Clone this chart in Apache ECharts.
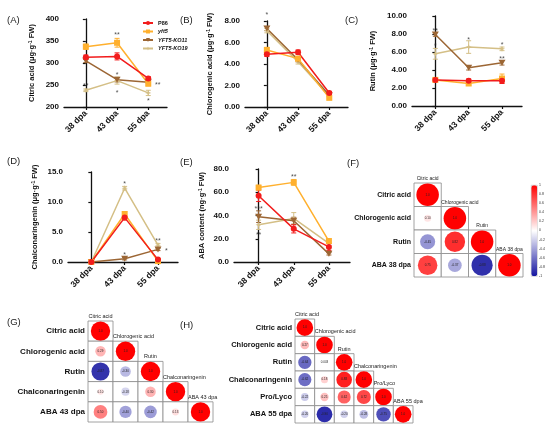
<!DOCTYPE html>
<html>
<head>
<meta charset="utf-8">
<script src="https://cdn.jsdelivr.net/npm/echarts@6/dist/echarts.min.js"></script>
<style>
html, body { margin: 0; padding: 0; background: #fff; }
#main { width: 550px; height: 431px; }
</style>
</head>
<body>
<div id="main"></div>
<script>
var stages = ['38 dpa', '43 dpa', '55 dpa'];
var lines = ['P86', 'yft5', 'YFT5-KO11', 'YFT5-KO19'];

// (A) citric acid, ug/g FW  (order: P86, yft5, KO11, KO19)
var citricP86 = [313, 315, 265];
var citricYft5 = [337, 346, 253];
var citricKO11 = [305, 262, 256];
var citricKO19 = [238, 260, 232];
var citricErr = [[5, 8, 4], [6, 10, 5], [4, 5, 3], [3, 8, 6]];
var citricSig = [[1, 368, '**'], [0, 251, '**'], [1, 277, '*'], [1, 237, '*'], [2.3, 254, '**'], [2, 218, '*']];

// (B) chlorogenic acid
var chloroP86 = [4.9, 5.1, 1.3];
var chloroYft5 = [5.3, 4.5, 0.85];
var chloroKO11 = [7.3, 4.4, 1.1];
var chloroKO19 = [7.1, 4.2, 1.0];
var chloroErr = [[0.2, 0.2, 0.15], [0.25, 0.2, 0.1], [0.2, 0.2, 0.1], [0.2, 0.2, 0.1]];
var chloroSig = [[0, 8.7, '*']];

// (C) rutin
var rutinP86 = [2.9, 2.8, 2.8];
var rutinYft5 = [2.9, 2.5, 3.05];
var rutinKO11 = [7.95, 4.25, 4.8];
var rutinKO19 = [5.8, 6.55, 6.35];
var rutinErr = [[0.2, 0.2, 0.3], [0.15, 0.2, 0.5], [0.2, 0.25, 0.25], [0.6, 0.7, 0.2]];
var rutinSig = [[0, 8.6, '**'], [0, 6.9, '*'], [1, 7.6, '*'], [2, 7.0, '*'], [2, 5.45, '**']];

// (D) chalconaringenin
var chalcoP86 = [0, 7.4, 0.4];
var chalcoYft5 = [0, 8.0, 0.15];
var chalcoKO11 = [0, 0.55, 2.1];
var chalcoKO19 = [0, 12.3, 2.8];
var chalcoErr = [[0, 0.4, 0.1], [0, 0.4, 0.1], [0, 0.2, 0.2], [0, 0.3, 0.3]];
var chalcoSig = [[1, 13.3, '*'], [1, 1.5, '*'], [2, 3.8, '**'], [2.25, 2.2, '*']];

// (E) ABA content, ng/g FW
var abaP86 = [57, 28.5, 13];
var abaYft5 = [64, 68.5, 18];
var abaKO11 = [39, 35.5, 7];
var abaKO19 = [32, 37.5, 16];
var abaErr = [[5, 3.5, 3], [2, 2.5, 2], [5, 3, 1], [4, 5, 2]];
var abaSig = [[1, 75, '**'], [0, 47, '***'], [0, 25, '**']];

// correlation matrices (lower triangle, row by row)
var corrNamesF = ['Citric acid', 'Chlorogenic acid', 'Rutin', 'ABA 38 dpa'];
var corrF = [[1], [0.1, 1], [-0.45, 0.82, 1], [0.75, -0.37, -0.88, 1]];
var corrNamesG = ['Citric acid', 'Chlorogenic acid', 'Rutin', 'Chalconaringenin', 'ABA 43 dpa'];
var corrG = [[1], [0.29, 1], [-0.87, -0.3, 1], [0.1, -0.18, 0.3, 1], [0.5, -0.4, -0.42, 0.13, 1]];
var corrNamesH = ['Citric acid', 'Chlorogenic acid', 'Rutin', 'Chalconaringenin', 'Pro/Lyco', 'ABA 55 dpa'];
var corrH = [[1], [0.27, 1], [-0.64, 0.003, 1], [-0.62, 0.18, 0.88, 1], [-0.22, 0.25, 0.62, 0.72, 1], [-0.2, -0.9, -0.2, -0.28, -0.75, 1]];

var colors = ['#f21c1c', '#ffb02e', '#9c6634', '#d4bf86'];
var symbols = ['circle', 'rect', 'path://M0,0L10,0L5,9Z', 'path://M5,0L6.4,3.6L10,5L6.4,6.4L5,10L3.6,6.4L0,5L3.6,3.6Z'];
var font = 'Arial, "Liberation Sans", sans-serif';

var linePanels = [
    { grid: { left: 64, top: 19, width: 103, height: 88 }, min: 200, max: 400, step: 50, digits: 0,
      name: 'Citric acid (μg·g{sup|-1} FW)', gap: 28,
      values: [citricP86, citricYft5, citricKO11, citricKO19], errors: citricErr, sig: citricSig },
    { grid: { left: 245, top: 21, width: 103, height: 86 }, min: 0, max: 8, step: 2, digits: 2,
      name: 'Chlorogenic acid (μg·g{sup|-1} FW)', gap: 31,
      values: [chloroP86, chloroYft5, chloroKO11, chloroKO19], errors: chloroErr, sig: chloroSig },
    { grid: { left: 412, top: 16, width: 110, height: 90 }, min: 0, max: 10, step: 2, digits: 2,
      name: 'Rutin (μg·g{sup|-1} FW)', gap: 35,
      values: [rutinP86, rutinYft5, rutinKO11, rutinKO19], errors: rutinErr, sig: rutinSig },
    { grid: { left: 68, top: 172, width: 110, height: 90 }, min: 0, max: 15, step: 5, digits: 1,
      name: 'Chalconaringenin (μg·g{sup|-1} FW)', gap: 29,
      values: [chalcoP86, chalcoYft5, chalcoKO11, chalcoKO19], errors: chalcoErr, sig: chalcoSig },
    { grid: { left: 234, top: 169, width: 116, height: 93 }, min: 0, max: 80, step: 20, digits: 1,
      name: 'ABA content (ng·g{sup|-1} FW)', gap: 28,
      values: [abaP86, abaYft5, abaKO11, abaKO19], errors: abaErr, sig: abaSig }
];

var matrixPanels = [
    { grid: { left: 414, top: 183, width: 109, height: 94 }, names: corrNamesF, corr: corrF, labelSize: 7, headSize: 5 },
    { grid: { left: 88, top: 321, width: 125, height: 101 }, names: corrNamesG, corr: corrG, labelSize: 8, headSize: 5.5 },
    { grid: { left: 295, top: 319, width: 118, height: 104 }, names: corrNamesH, corr: corrH, labelSize: 7.5, headSize: 5.5 }
];

var grids = [], xAxes = [], yAxes = [], series = [], matrixIdx = [];
var measure = document.createElement('canvas').getContext('2d');

linePanels.forEach(function(p, i) {
    grids.push(p.grid);
    xAxes.push({
        type: 'value', gridIndex: i, min: -0.7, max: 2.6,
        splitLine: { show: false },
        axisLine: { lineStyle: { color: '#111', width: 1.3 } },
        axisTick: { customValues: [0, 1, 2], length: 3, lineStyle: { color: '#111', width: 1.2 } },
        axisLabel: {
            customValues: [0, 1, 2], rotate: 45, margin: 5,
            formatter: function(v) { return stages[Math.round(v)]; },
            fontSize: 8.5, fontWeight: 'bold', color: '#111', fontFamily: font
        }
    });
    yAxes.push({
        type: 'value', gridIndex: i, min: p.min, max: p.max, interval: p.step,
        splitLine: { show: false },
        axisLine: { show: true, lineStyle: { color: '#111', width: 1.3 } },
        axisTick: { show: true, length: 3, lineStyle: { color: '#111', width: 1.2 } },
        axisLabel: {
            margin: 5, fontSize: 8, fontWeight: 'bold', color: '#111', fontFamily: font,
            formatter: (function(d) { return function(v) { return v.toFixed(d); }; })(p.digits)
        },
        name: p.name, nameLocation: 'middle', nameGap: p.gap,
        nameTextStyle: {
            fontSize: 7.5, fontWeight: 'bold', color: '#111', fontFamily: font,
            rich: { sup: { fontSize: 5, fontWeight: 'bold', color: '#111', verticalAlign: 'top', fontFamily: font } }
        }
    });

    // error bars, then lines (P86 drawn last so it sits on top)
    [3, 2, 1, 0].forEach(function(k) {
        series.push({
            type: 'custom', xAxisIndex: i, yAxisIndex: i, silent: true, z: 3,
            data: p.values[k].map(function(v, j) { return [j, v, p.errors[k][j]]; }),
            renderItem: (function(col) {
                return function(params, api) {
                    var x = api.value(0), v = api.value(1), e = api.value(2);
                    var lo = api.coord([x, v - e]), hi = api.coord([x, v + e]);
                    var st = { stroke: col, lineWidth: 1 };
                    return { type: 'group', children: [
                        { type: 'line', shape: { x1: lo[0], y1: lo[1], x2: hi[0], y2: hi[1] }, style: st },
                        { type: 'line', shape: { x1: lo[0] - 2.5, y1: lo[1], x2: lo[0] + 2.5, y2: lo[1] }, style: st },
                        { type: 'line', shape: { x1: hi[0] - 2.5, y1: hi[1], x2: hi[0] + 2.5, y2: hi[1] }, style: st }
                    ] };
                };
            })(colors[k])
        });
    });
    [3, 2, 1, 0].forEach(function(k) {
        series.push({
            name: lines[k], type: 'line', xAxisIndex: i, yAxisIndex: i, z: 4,
            data: p.values[k].map(function(v, j) { return [j, v]; }),
            symbol: symbols[k], symbolSize: k === 2 ? [7, 6] : 6, showAllSymbol: true,
            lineStyle: { color: colors[k], width: 1.5 },
            itemStyle: { color: colors[k] },
            animation: false
        });
    });
    series.push({
        type: 'scatter', xAxisIndex: i, yAxisIndex: i, silent: true, clip: false,
        data: p.sig, symbolSize: 1, itemStyle: { color: 'rgba(0,0,0,0)' },
        label: {
            show: true, position: 'inside', formatter: function(q) { return q.data[2]; },
            fontSize: 7, color: '#222', fontFamily: font, offset: [0, 2]
        }
    });
});

matrixPanels.forEach(function(m, mi) {
    var gi = grids.length;
    grids.push(m.grid);
    xAxes.push({ type: 'category', gridIndex: gi, data: m.names, show: false });
    yAxes.push({
        type: 'category', gridIndex: gi, data: m.names, inverse: true,
        axisLine: { show: false }, axisTick: { show: false },
        axisLabel: { margin: 3, fontSize: m.labelSize, fontWeight: 'bold', color: '#111', fontFamily: font }
    });
    var data = [];
    m.corr.forEach(function(row, r) {
        row.forEach(function(v, c) { data.push([c, r, v]); });
    });
    matrixIdx.push(series.length);
    series.push({
        type: 'custom', xAxisIndex: gi, yAxisIndex: gi, silent: true,
        encode: { x: 0, y: 1 }, data: data,
        renderItem: function(params, api) {
            var c = api.value(0), r = api.value(1), v = api.value(2);
            var p = api.coord([c, r]);
            var s = api.size([1, 1]);
            var x0 = p[0] - s[0] / 2, y0 = p[1] - s[1] / 2;
            var rad = Math.min(s[0], s[1]) * 0.48 * Math.sqrt(Math.abs(v));
            var txt = v === 1 ? '1.0' : (Math.abs(v) < 0.01 ? v.toFixed(3) : v.toFixed(2));
            var children = [
                { type: 'rect', shape: { x: x0, y: y0, width: s[0], height: s[1] },
                  style: { fill: '#fff', stroke: '#8a8a8a', lineWidth: 0.8 } },
                { type: 'circle', shape: { cx: p[0], cy: p[1], r: rad }, style: { fill: api.visual('color') } },
                { type: 'text', style: { text: txt, x: p[0], y: p[1], align: 'center', verticalAlign: 'middle',
                  fontSize: 3, fill: '#222', fontFamily: font } }
            ];
            if (c === r) {
                measure.font = m.headSize + 'px Arial';
                var w = measure.measureText(m.names[c]).width;
                var hx = Math.max(x0, p[0] - w / 2);
                children.push({ type: 'text', style: { text: m.names[c], x: hx, y: y0 - 1.5, align: 'left',
                    verticalAlign: 'bottom', fontSize: m.headSize, fill: '#222', fontFamily: font } });
            }
            return { type: 'group', children: children };
        }
    });
});

// colour bar tick labels
var cbIdx = grids.length;
grids.push({ left: 531, top: 185, width: 6, height: 91 });
xAxes.push({ type: 'value', gridIndex: cbIdx, show: false });
yAxes.push({
    type: 'value', gridIndex: cbIdx, position: 'right', min: -1, max: 1, interval: 0.2,
    axisLine: { show: false }, axisTick: { show: false }, splitLine: { show: false },
    axisLabel: { margin: 2, fontSize: 3.5, color: '#333', fontFamily: font,
        formatter: function(v) { return String(parseFloat(v.toFixed(1))); } }
});

var panelTitles = [['(A)', 7, 15], ['(B)', 180, 15], ['(C)', 345, 15], ['(D)', 7, 156], ['(E)', 180, 157],
    ['(F)', 347, 158], ['(G)', 7, 317], ['(H)', 180, 320]];

var option = {
    backgroundColor: '#fff',
    animation: false,
    title: panelTitles.map(function(t) {
        return { text: t[0], left: t[1], top: t[2], padding: 0,
            textStyle: { fontSize: 9.5, fontWeight: 'normal', color: '#222', fontFamily: font } };
    }),
    legend: {
        data: lines, orient: 'vertical', left: 142, top: 20, padding: 0,
        itemWidth: 10, itemHeight: 5, itemGap: 2.5,
        formatter: function(n) { return n === 'P86' ? '{n|' + n + '}' : '{i|' + n + '}'; },
        textStyle: {
            fontSize: 5.5, fontFamily: font, color: '#111',
            rich: {
                n: { fontSize: 5.5, fontWeight: 'bold', color: '#111', fontFamily: font },
                i: { fontSize: 5.5, fontWeight: 'bold', fontStyle: 'italic', color: '#111', fontFamily: font }
            }
        }
    },
    visualMap: {
        type: 'continuous', min: -1, max: 1, dimension: 2, seriesIndex: matrixIdx,
        calculable: false, text: ['', ''], left: 531, top: 185, itemWidth: 6, itemHeight: 91,
        padding: 0, borderColor: '#aaa', borderWidth: 0.5,
        inRange: { color: ['#1414a0', '#ffffff', '#ff0000'] }
    },
    grid: grids,
    xAxis: xAxes,
    yAxis: yAxes,
    series: series
};

var chart = echarts.init(document.getElementById('main'));
chart.setOption(option);
</script>
</body>
</html>
